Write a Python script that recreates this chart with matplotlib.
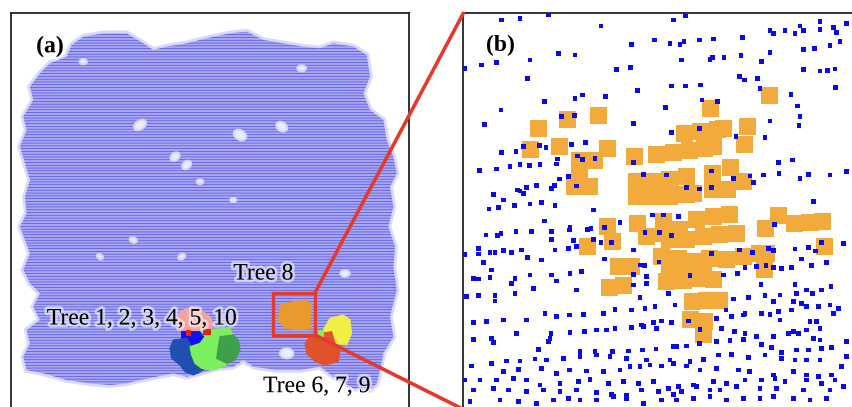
import matplotlib
matplotlib.use("Agg")
import matplotlib.pyplot as plt
import matplotlib.patheffects as pe
from matplotlib.patches import Polygon, Rectangle, Ellipse, ConnectionPatch

# ---------------- panel (a): whole plot, canopy outline (plot units) ----------------
cloud_x = [215, 250, 310, 380, 430, 460, 500, 560, 620, 690, 740, 790, 850, 910, 960, 1000,
           1060, 1100, 1110, 1090, 1110, 1150, 1160, 1180, 1190, 1170, 1180, 1165, 1185, 1180,
           1190, 1170, 1180, 1150, 1140, 1130, 1110, 1060, 1000, 960, 900, 830, 760, 730, 700,
           650, 600, 560, 520, 470, 420, 380, 330, 270, 200, 130, 80, 70, 90, 80, 120, 100, 120,
           90, 70, 90, 75, 60, 80, 75, 90, 75, 60, 80, 70, 100, 90, 120, 150, 200]
cloud_y = [135, 110, 100, 100, 130, 150, 140, 130, 115, 100, 95, 120, 130, 140, 145, 130,
           140, 165, 230, 280, 330, 360, 420, 470, 520, 560, 620, 680, 740, 800,
           870, 950, 1010, 1060, 1110, 1150, 1170, 1165, 1130, 1100, 1110, 1110, 1100, 1080, 1100,
           1105, 1120, 1130, 1120, 1130, 1140, 1150, 1155, 1150, 1140, 1120, 1110, 1070, 1030, 990,
           960, 920, 880, 850, 810, 760, 720, 680, 640, 590, 540, 490, 440, 390, 350, 300, 260,
           220, 190, 170]

# canopy gaps: centre x, centre y, width, height, tilt (deg)
gap_x = [420, 525, 560, 720, 845, 905, 250, 545, 400, 600, 1035, 860, 300, 700]
gap_y = [375, 470, 495, 405, 380, 205, 185, 770, 720, 545, 820, 1060, 770, 600]
gap_w = [40, 30, 30, 40, 35, 26, 22, 22, 22, 20, 28, 40, 20, 18]
gap_h = [26, 22, 22, 28, 26, 18, 16, 16, 16, 14, 20, 30, 14, 12]
gap_a = [-35, -40, -40, 30, 35, 0, 0, -30, 20, 0, 0, 0, 30, 0]

# segmented trees: outline vertices and colours
tree_names = ["Tree 5", "Tree 2", "Tree 1", "Tree 3", "Tree 4", "Tree 8", "Tree 7", "Tree 6"]
tree_colors = ["#f2a3a0", "#1010f0", "#1f4fb0", "#7cf05c", "#3f9f4a", "#e89a2c", "#f1ef44", "#e0522a"]
tree_outlines = [
    [(540, 935), (575, 920), (610, 935), (630, 950), (640, 975), (620, 995), (560, 995), (535, 985), (530, 960)],
    [(545, 995), (600, 995), (615, 1010), (600, 1030), (570, 1040), (545, 1030)],
    [(520, 1020), (560, 1015), (575, 1040), (580, 1060), (600, 1080), (610, 1110), (580, 1125),
     (555, 1115), (540, 1095), (515, 1075), (510, 1045)],
    [(600, 990), (690, 985), (700, 1010), (690, 1050), (680, 1095), (640, 1110), (605, 1105),
     (585, 1090), (575, 1065), (570, 1040), (600, 1030), (615, 1010)],
    [(660, 1010), (700, 1005), (715, 1020), (720, 1050), (705, 1080), (680, 1090), (650, 1075), (655, 1040)],
    [(840, 915), (880, 905), (920, 900), (935, 915), (930, 960), (935, 985), (900, 990), (855, 985), (835, 960)],
    [(990, 955), (1030, 945), (1050, 960), (1055, 1000), (1040, 1035), (1010, 1030), (985, 1010), (970, 990)],
    [(930, 1010), (965, 1000), (995, 995), (1005, 1030), (1020, 1050), (1015, 1085), (975, 1095),
     (945, 1085), (920, 1060), (915, 1030)],
]

labels_a = ["Tree 8", "Tree 1, 2, 3, 4, 5, 10", "Tree 6, 7, 9"]
labels_a_x = [790, 425, 950]
labels_a_y = [822, 957, 1160]

# zoomed window on Tree 8 (plot units)
zoom_x0, zoom_y0, zoom_x1, zoom_y1 = 820, 878, 945, 1005

# ---------------- panel (b): close-up of Tree 8 ----------------
ground_x = [125, 180, 265, 640, 677, 423, 930, 940, 975, 1005, 1020, 1030, 1080, 1080, 1120, 1130, 1160,
            515, 583, 630, 660, 672, 718, 760, 848, 1110, 1140, 1030, 1063,
            295, 345, 210, 65, 110, 15, 665, 750, 757, 792, 843, 905, 930,
            470, 512, 1030, 1080, 1103, 1125, 203, 838, 853, 893,
            635, 676, 722, 900, 1127, 533, 368, 345, 437, 993, 253, 726, 773,
            123, 617, 1013, 1020, 1017, 305, 343, 930, 73, 520, 718, 635, 828, 915,
            335, 377, 190, 238, 258, 125, 168, 353, 368, 405, 293, 955, 998,
            180, 208, 240, 150, 110, 58, 520, 290,
            550, 620, 755, 820, 870, 910, 957, 1020, 1045, 1110, 1160, 325, 298,
            880, 350, 680, 718, 755, 173, 200, 230, 275, 283, 190, 180,
            100, 130, 245, 210, 163, 285, 87, 115, 1060, 400,
            578, 610, 655, 253,
            330, 383, 433, 480, 943, 215, 168, 78, 112, 123, 275, 328, 555, 598, 635, 393,
            275, 340, 400, 423, 455, 1085, 1150, 15,
            55, 90, 105, 130, 155, 185, 285, 325, 350, 520, 55, 838, 878, 925, 940, 1005, 1045, 1067, 755,
            70, 203, 245, 433, 1025, 1055, 1100, 540, 553, 597,
            95, 918, 940, 965, 995, 890, 855, 833, 40, 55, 90, 210, 165, 155, 275, 290, 330, 365, 790, 690,
            520, 560, 560,
            220, 350, 520, 625, 903, 1005, 1040, 1058, 1085, 1113, 1010,
            20, 55, 105, 105, 165, 540, 820, 865, 915, 940, 960, 1000, 1025, 1040, 1075, 1110, 1135, 1120,
            465, 515, 555, 585, 645, 430, 370, 328, 290, 255, 855, 905, 930, 955, 995, 798,
            40, 80, 130, 200, 545, 580, 605, 635, 685, 770, 815, 850, 960, 1000, 1050, 1070, 1080,
            170, 273, 330, 373, 410, 440, 465, 515, 550, 590, 720, 785, 823, 855, 890, 940, 985, 1015, 1040, 1060,
            40, 95, 100, 270, 265, 640, 650, 680, 718, 770, 810, 850, 1080, 1160,
            235, 360, 405, 457, 505, 548, 588, 905, 935, 965, 1010, 1045, 1085, 1115,
            140, 95, 180, 225, 260, 310, 360, 410, 450, 500, 560, 630, 690, 730, 775, 815, 865, 915, 965,
            1005, 1040, 1080, 1145, 1160,
            35, 130, 175, 245, 290, 328, 380, 430, 480, 510, 540, 570, 605, 640, 680, 720, 770, 835, 868,
            940, 1000, 1040, 1075, 1115,
            15, 60, 110, 160, 200, 240, 300, 355, 390, 445, 490, 535, 580, 625, 655, 700, 760, 800, 855,
            905, 945, 975, 1040, 1085, 1125,
            40, 100, 145, 200, 250, 300, 350, 410, 455, 500, 545, 595, 640, 665, 710, 750, 780, 830, 900,
            950, 1030, 1110, 1150,
            30, 120, 175, 230, 280, 325, 360, 410, 460, 500, 550, 605, 650, 700, 750, 800, 850, 900, 940,
            1000, 1050, 1100]
ground_y = [60, 55, 45, 60, 48, 78, 92, 100, 92, 100, 78, 92, 65, 88, 82, 97, 70,
            133, 120, 130, 133, 125, 120, 117, 112, 137, 125, 148, 145,
            160, 165, 180, 195, 188, 205, 180, 178, 173, 172, 167, 185, 157,
            208, 203, 208, 213, 212, 207, 235, 230, 240, 235,
            258, 258, 255, 265, 263, 272, 285, 295, 290, 283, 305, 300, 305,
            330, 323, 318, 350, 377, 350, 347, 363, 373, 370, 385, 397, 410, 413,
            433, 428, 440, 437, 443, 457, 455, 468, 478, 475, 477, 488, 480,
            493, 497, 493, 500, 507, 512, 488, 492,
            523, 525, 513, 535, 528, 525, 520, 535, 523, 525, 515, 530, 537,
            548, 558, 563, 567, 563, 570, 563, 557, 565, 557, 580, 573,
            583, 600, 607, 612, 617, 617, 627, 622, 605, 630,
            645, 645, 650, 663,
            683, 688, 683, 668, 673, 695, 695, 705, 707, 700, 695, 690, 697, 697, 707, 685,
            718, 722, 718, 727, 728, 727, 730, 763,
            745, 757, 757, 752, 757, 750, 750, 745, 740, 750, 762, 750, 757, 745, 752, 747, 742, 753, 760,
            787, 773, 780, 777, 777, 797, 787, 795, 797, 786,
            810, 797, 803, 805, 803, 800, 803, 820, 835, 837, 832, 825, 835, 850, 825, 843, 820, 815, 825, 827,
            823, 830, 850,
            865, 870, 855, 880, 853, 853, 870, 880, 870, 860, 880,
            890, 887, 887, 903, 880, 893, 897, 893, 887, 905, 885, 905, 910, 920, 920, 915, 925, 940,
            928, 930, 925, 920, 915, 940, 943, 945, 950, 940, 940, 940, 943, 935, 930, 930,
            968, 965, 960, 960, 975, 967, 963, 968, 963, 955, 950, 945, 960, 995, 965, 965, 985,
            1000, 1000, 998, 995, 990, 990, 985, 982, 980, 985, 988, 985, 995, 1000, 1010, 1010, 1000, 1000,
            990, 1015,
            1018, 1015, 1027, 1015, 1025, 1040, 1040, 1038, 1030, 1025, 1022, 1018, 1020, 1025,
            1048, 1055, 1055, 1055, 1053, 1050, 1047, 1033, 1043, 1058, 1050, 1050, 1045, 1043,
            1083, 1090, 1083, 1077, 1080, 1075, 1070, 1065, 1070, 1075, 1080, 1080, 1085, 1078, 1065, 1063,
            1073, 1065, 1075, 1080, 1080, 1080, 1100, 1070,
            1098, 1115, 1108, 1105, 1120, 1110, 1113, 1115, 1110, 1100, 1100, 1095, 1098, 1090, 1098, 1110,
            1105, 1110, 1115, 1125, 1115, 1125, 1130, 1125,
            1140, 1140, 1140, 1135, 1140, 1155, 1150, 1145, 1138, 1150, 1145, 1150, 1145, 1165, 1160, 1155,
            1145, 1150, 1140, 1140, 1135, 1145, 1140, 1150, 1140,
            1170, 1165, 1170, 1175, 1170, 1175, 1170, 1178, 1183, 1185, 1170, 1175, 1183, 1175, 1160, 1170,
            1170, 1160, 1165, 1165, 1170, 1170, 1160,
            1205, 1200, 1205, 1210, 1200, 1195, 1200, 1200, 1190, 1195, 1210, 1200, 1200, 1195, 1190, 1200,
            1195, 1195, 1190, 1195, 1200, 1195]

tree8_x = [928, 753, 415, 323, 237, 213, 300, 443,
           358, 405, 358, 343, 390, 525,
           590, 640, 690, 735, 760,
           673, 723, 773, 790, 863, 853,
           530, 530, 580, 580, 630, 630, 680, 680, 700,
           758, 813, 758, 803, 850,
           532, 560, 610, 610, 660, 710, 760, 810, 830, 780, 730, 680, 630,
           443, 383, 458,
           918, 955, 1005, 1050, 1088, 1093,
           605, 655, 700, 750, 800, 850, 900, 920, 630, 680, 730, 913,
           475, 515, 448, 490,
           620, 670, 720, 760,
           697, 740, 780, 693, 735, 730]
tree8_y = [288, 325, 348, 358, 385, 450, 440, 445,
           483, 483, 510, 560, 560, 470,
           465, 458, 452, 445, 440,
           400, 395, 390, 385, 380, 435,
           545, 590, 545, 590, 540, 590, 530, 585, 580,
           520, 503, 568, 568, 545,
           670, 710, 700, 665, 690, 660, 650, 645, 700, 705, 710, 720, 720,
           680, 740, 725,
           685, 648, 670, 668, 665, 740,
           770, 775, 785, 775, 780, 770, 760, 760, 820, 820, 815, 808,
           800, 800, 862, 858,
           845, 843, 835, 840,
           905, 903, 903, 960, 965, 1005]

# ---------------- figure ----------------
W, H = 852, 407
fig = plt.figure(figsize=(W / 100, H / 100), dpi=100)
plt.rcParams["hatch.linewidth"] = 0.5
serif = ["Liberation Serif", "DejaVu Serif"]

# panel (a)
ax_a = fig.add_axes([11 / W, -13 / H, 398 / W, 407 / H])
ax_a.set_xlim(33, 1227)
ax_a.set_ylim(1260, 39)
ax_a.set_xticks([])
ax_a.set_yticks([])
for s in ax_a.spines.values():
    s.set_linewidth(1.3)
    s.set_color("#222222")

cloud_xy = list(zip(cloud_x, cloud_y))
ax_a.add_patch(Polygon(cloud_xy, closed=True, facecolor="#d4d4f8", edgecolor="#d4d4f8",
                       lw=4, alpha=0.9, zorder=1))
ax_a.add_patch(Polygon(cloud_xy, closed=True, facecolor="#a8a8f1", edgecolor="#5050e6",
                       hatch="------", lw=0, zorder=2))
for gx, gy, gw, gh, ga in zip(gap_x, gap_y, gap_w, gap_h, gap_a):
    ax_a.add_patch(Ellipse((gx, gy), gw, gh, angle=ga, facecolor="#ececfc",
                           edgecolor="#d6d6f8", lw=1.5, zorder=3))

for outline, color in zip(tree_outlines, tree_colors):
    ax_a.add_patch(Polygon(outline, closed=True, facecolor=color, edgecolor=color,
                           lw=0.8, zorder=4))
# red remnants on the crown boundaries
ax_a.add_patch(Rectangle((558, 990), 16, 18, facecolor="#e2231a", edgecolor="none", zorder=5))
ax_a.add_patch(Rectangle((610, 988), 24, 16, facecolor="#e2231a", edgecolor="none", zorder=5))
ax_a.add_patch(Rectangle((955, 990), 18, 20, facecolor="#8ee860", edgecolor="none", zorder=5))

for txt, tx, ty in zip(labels_a, labels_a_x, labels_a_y):
    ax_a.text(tx, ty, txt, fontsize=17, family=serif, ha="center", va="center", zorder=7,
              path_effects=[pe.withStroke(linewidth=4, foreground="white", alpha=0.55)])
ax_a.text(150, 140, "(a)", fontsize=17, family=serif, fontweight="bold", ha="center",
          va="center", zorder=7,
          path_effects=[pe.withStroke(linewidth=4, foreground="white", alpha=0.6)])

ax_a.add_patch(Rectangle((zoom_x0, zoom_y0), zoom_x1 - zoom_x0, zoom_y1 - zoom_y0,
                         facecolor="none", edgecolor="#e5392b", lw=2.4, zorder=6))

# panel (b)
ax_b = fig.add_axes([463.3 / W, (H - 13.3 - 396) / H, 396.7 / W, 396 / H])
ax_b.set_xlim(10, 1200)
ax_b.set_ylim(1228, 40)
ax_b.set_xticks([])
ax_b.set_yticks([])
for s in ax_b.spines.values():
    s.set_linewidth(1.3)
    s.set_color("#222222")

ax_b.scatter(tree8_x, tree8_y, marker="s", s=150, c="#f2aa3c", edgecolors="none", zorder=2)
ax_b.scatter(ground_x, ground_y, marker="s", s=12, c="#0a0af0", edgecolors="none", zorder=3)
ax_b.text(120, 135, "(b)", fontsize=17, family=serif, fontweight="bold", ha="center",
          va="center", zorder=5)

# connector lines from the window in (a) to the corners of (b)
for ya, yb in [(zoom_y0, 40), (zoom_y1, 1228)]:
    con = ConnectionPatch(xyA=(zoom_x1, ya), coordsA=ax_a.transData,
                          xyB=(10, yb), coordsB=ax_b.transData,
                          color="#e5392b", lw=2.6, zorder=10)
    fig.add_artist(con)

fig.savefig("out.png", dpi=100)
